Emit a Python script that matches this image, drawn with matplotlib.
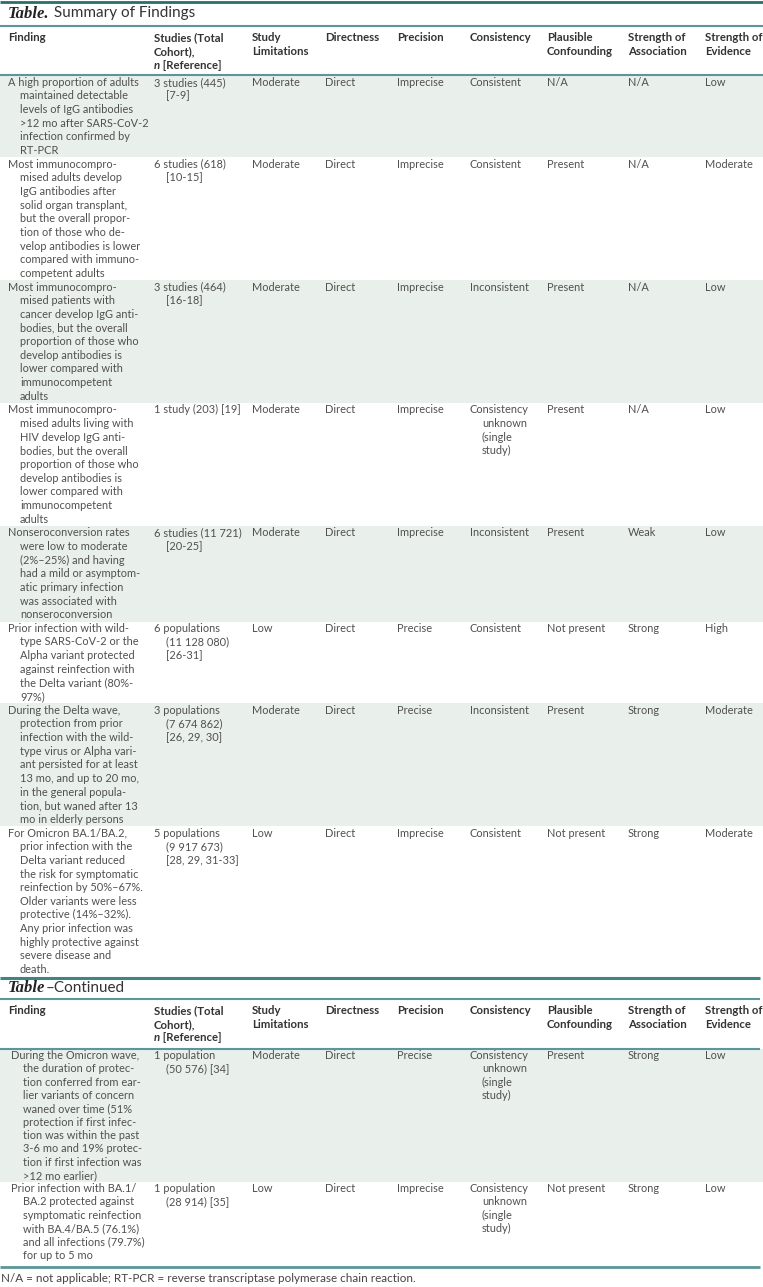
import matplotlib.pyplot as plt

# table content (line breaks as printed)
headers = ["Finding", "Studies (Total\nCohort),", "Study\nLimitations", "Directness",
           "Precision", "Consistency", "Plausible\nConfounding",
           "Strength of\nAssociation", "Strength of\nEvidence"]

findings = [
    "A high proportion of adults\nmaintained detectable\nlevels of IgG antibodies\n>12 mo after SARS-CoV-2\ninfection confirmed by\nRT-PCR",
    "Most immunocompro-\nmised adults develop\nIgG antibodies after\nsolid organ transplant,\nbut the overall propor-\ntion of those who de-\nvelop antibodies is lower\ncompared with immuno-\ncompetent adults",
    "Most immunocompro-\nmised patients with\ncancer develop IgG anti-\nbodies, but the overall\nproportion of those who\ndevelop antibodies is\nlower compared with\nimmunocompetent\nadults",
    "Most immunocompro-\nmised adults living with\nHIV develop IgG anti-\nbodies, but the overall\nproportion of those who\ndevelop antibodies is\nlower compared with\nimmunocompetent\nadults",
    "Nonseroconversion rates\nwere low to moderate\n(2%–25%) and having\nhad a mild or asymptom-\natic primary infection\nwas associated with\nnonseroconversion",
    "Prior infection with wild-\ntype SARS-CoV-2 or the\nAlpha variant protected\nagainst reinfection with\nthe Delta variant (80%-\n97%)",
    "During the Delta wave,\nprotection from prior\ninfection with the wild-\ntype virus or Alpha vari-\nant persisted for at least\n13 mo, and up to 20 mo,\nin the general popula-\ntion, but waned after 13\nmo in elderly persons",
    "For Omicron BA.1/BA.2,\nprior infection with the\nDelta variant reduced\nthe risk for symptomatic\nreinfection by 50%–67%.\nOlder variants were less\nprotective (14%–32%).\nAny prior infection was\nhighly protective against\nsevere disease and\ndeath.",
    "During the Omicron wave,\nthe duration of protec-\ntion conferred from ear-\nlier variants of concern\nwaned over time (51%\nprotection if first infec-\ntion was within the past\n3-6 mo and 19% protec-\ntion if first infection was\n>12 mo earlier)",
    "Prior infection with BA.1/\nBA.2 protected against\nsymptomatic reinfection\nwith BA.4/BA.5 (76.1%)\nand all infections (79.7%)\nfor up to 5 mo",
]
studies = ["3 studies (445)\n[7-9]", "6 studies (618)\n[10-15]", "3 studies (464)\n[16-18]",
           "1 study (203) [19]", "6 studies (11 721)\n[20-25]",
           "6 populations\n(11 128 080)\n[26-31]", "3 populations\n(7 674 862)\n[26, 29, 30]",
           "5 populations\n(9 917 673)\n[28, 29, 31-33]",
           "1 population\n(50 576) [34]", "1 population\n(28 914) [35]"]
limitations = ["Moderate", "Moderate", "Moderate", "Moderate", "Moderate", "Low",
               "Moderate", "Low", "Moderate", "Low"]
directness = ["Direct"] * 10
precision = ["Imprecise", "Imprecise", "Imprecise", "Imprecise", "Imprecise", "Precise",
             "Precise", "Imprecise", "Precise", "Imprecise"]
single = "Consistency\nunknown\n(single\nstudy)"
consistency = ["Consistent", "Consistent", "Inconsistent", single, "Inconsistent",
               "Consistent", "Inconsistent", "Consistent", single, single]
confounding = ["N/A", "Present", "Present", "Present", "Present", "Not present",
               "Present", "Not present", "Present", "Not present"]
association = ["N/A", "N/A", "N/A", "N/A", "Weak", "Strong", "Strong", "Strong",
               "Strong", "Strong"]
evidence = ["Low", "Moderate", "Low", "Low", "Low", "High", "Moderate", "Moderate",
            "Low", "Low"]
footnote = "N/A = not applicable; RT-PCR = reverse transcriptase polymerase chain reaction."

W, H = 763, 1287
col_x = [8, 154, 252, 325, 397, 470, 547, 628, 705]
indent = 12
shade = "#e9efeb"
teal = "#5b9699"
dark_teal = "#2c6d70"
txt = "#505050"
hdr = "#333333"
FONT = ["Lato", "DejaVu Sans"]
fs = 7.9
hfs = 8.2

fig = plt.figure(figsize=(W / 100, H / 100), dpi=100)
ax = fig.add_axes([0, 0, 1, 1])
ax.set_xlim(0, W)
ax.set_ylim(H, 0)
ax.axis("off")


def cell(x, y, s, lh, **kw):
    for i, line in enumerate(s.split("\n")):
        ax.text(x + (indent if i else 0), y + i * lh, line, va="center", ha="left",
                family=FONT, fontsize=fs, color=txt, **kw)


def title(y, lead, rest):
    t = ax.text(8, y, lead, family=["Liberation Serif"], fontsize=12,
                weight="bold", style="italic", color="#222222", va="center")
    ax.annotate(rest, xy=(1, 0.5), xycoords=t, va="center", ha="left",
                family=FONT, fontsize=11, color="#333333")


def header(y, lh):
    for x, h in zip(col_x, headers):
        for i, line in enumerate(h.split("\n")):
            ax.text(x, y + i * lh, line, va="center", ha="left", family=FONT,
                    fontsize=hfs, weight="bold", color=hdr)
    t = ax.text(col_x[1], y + 2 * lh, "n", va="center", ha="left", family=FONT,
                fontsize=hfs, weight="bold", style="italic", color=hdr)
    ax.annotate(" [Reference]", xy=(1, 0.5), xycoords=t, va="center", ha="left",
                family=FONT, fontsize=hfs, weight="bold", color=hdr)


def body(rows, top, lh, x_shift=0):
    for k, r in enumerate(rows):
        n = findings[r].count("\n") + 1
        h = n * lh
        if k % 2 == 0:
            ax.fill_between([0, W], top, top + h, color=shade, lw=0, zorder=0)
        cols = [findings, studies, limitations, directness, precision, consistency,
                confounding, association, evidence]
        for j, c in enumerate(cols):
            cell(col_x[j] + (x_shift if j == 0 else 0), top + lh / 2, c[r], lh)
        top += h
    return top


# first part
ax.hlines(1.5, 0, W, color=dark_teal, lw=2)
title(13.5, "Table.", " Summary of Findings")
ax.hlines(26, 0, W, color=teal, lw=1.5)
header(37.7, 13.8)
ax.hlines(75, 0, W, color=teal, lw=1.5)
end = body(range(8), 75.5, 13.65)

# continued part
ax.hlines(end + 1.5, 0, W - 3, color="#3f8487", lw=2.2)
title(987.5, "Table", "–Continued")
ax.hlines(998.7, 0, W - 3, color=teal, lw=1.5)
header(1011, 13.2)
ax.hlines(1048.5, 0, W - 3, color=teal, lw=1.5)
end = body([8, 9], 1049, 13.3, x_shift=3)
ax.hlines(1266.5, 0, W - 3, color=teal, lw=2)

ax.text(1, 1278.5, footnote, va="center", ha="left", family=FONT, fontsize=8.4,
        color="#444444")

fig.savefig("out.png", dpi=100)
